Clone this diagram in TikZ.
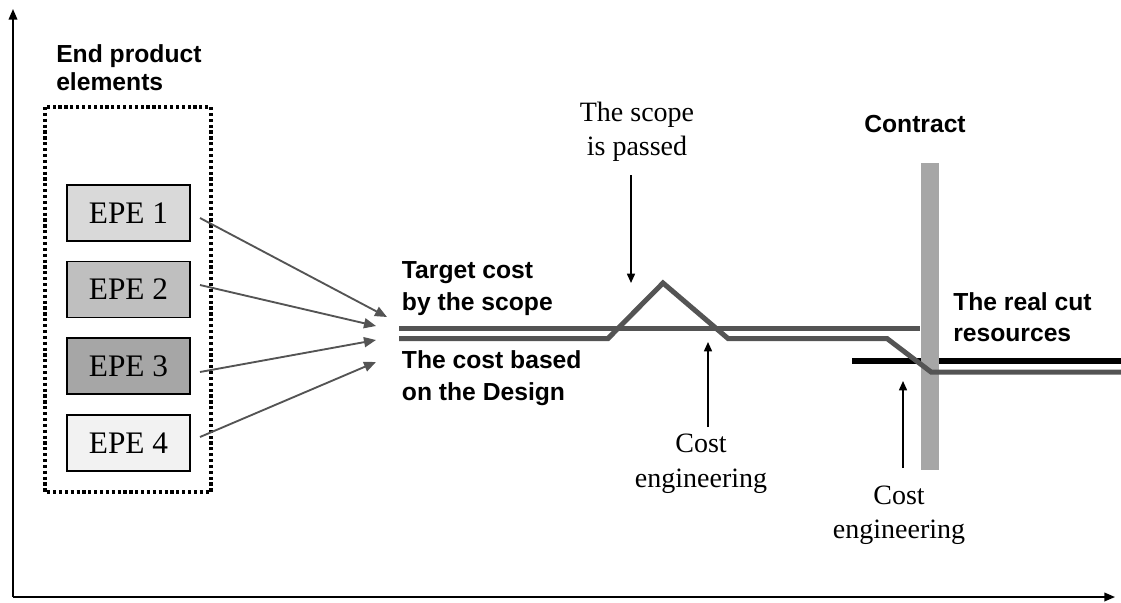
\documentclass[tikz,border=0pt]{standalone}
\usepackage{fontspec}
\setmainfont{Liberation Serif}
\setsansfont{Liberation Sans}
\usetikzlibrary{arrows.meta}
\definecolor{costgray}{gray}{0.33}
\definecolor{bargray}{gray}{0.65}
\tikzset{
  epe/.style={draw,line width=1.2pt,minimum width=92pt,minimum height=42pt,
    inner sep=0pt,font=\fontsize{23.5}{28}\selectfont},
  boldlbl/.style={font=\sffamily\bfseries\fontsize{18.5}{24}\selectfont,
    align=left,inner sep=0pt,anchor=base west},
  serlbl/.style={font=\fontsize{21}{26}\selectfont,align=center,
    inner sep=0pt,anchor=base},
  feed/.style={draw=costgray,line width=1.4pt,->},
  costline/.style={draw=costgray,line width=3.75pt,line join=miter},
  pointer/.style={line width=1.2pt,-{Triangle[length=7pt,width=6pt]}}
}
\begin{document}
\begin{tikzpicture}[x=0.75pt,y=-0.75pt,>={Triangle[length=9pt,width=7.5pt]}]
  \useasboundingbox (0,0) rectangle (1121,603);
  % axes
  \coordinate (origin) at (13,597);
  \coordinate (ytop) at (13,9);
  \coordinate (xend) at (1115,597);
  \draw[line width=1.2pt,-{Triangle[length=8pt,width=6.5pt]}] (origin)--(ytop);
  \draw[line width=1.2pt,-{Triangle[length=8pt,width=6.5pt]}] (origin)--(xend);
  % end product elements (base = last line)
  \node[boldlbl,font=\sffamily\bfseries\fontsize{18.5}{21}\selectfont]
    (eptitle) at (56,90) {End product\\elements};
  \draw[line width=2.4pt,dash pattern=on 2.4pt off 2pt] (45,107) rectangle (211,492);
  \foreach \i/\yc/\g in {1/213/15,2/289.5/25,3/366/35,4/443/5}
    \node[epe,fill=black!\g] (e\i) at (128.5,\yc) {EPE \i};
  % feeding arrows
  \coordinate (s1) at (200,218); \coordinate (t1) at (387,317);
  \coordinate (s2) at (200,285); \coordinate (t2) at (376,326);
  \coordinate (s3) at (200,372); \coordinate (t3) at (376,340);
  \coordinate (s4) at (200,437); \coordinate (t4) at (376,362);
  \foreach \i in {1,...,4}
    \draw[feed] (s\i)--(t\i);
  % real cut resources (under the bar)
  \coordinate (r0) at (852,361);
  \coordinate (r1) at (1121,361);
  \draw[line width=4.3pt] (r0)--(r1);
  % contract bar
  \fill[bargray] (920.5,163) rectangle (939,470);
  \node[boldlbl,anchor=base] (contract) at (915,132) {Contract};
  % target cost and design cost
  \coordinate (a0) at (399,328);
  \coordinate (a1) at (920,328);
  \draw[costline] (a0)--(a1);
  \coordinate (b0) at (399,338.5);
  \coordinate (b1) at (608,338.5);
  \coordinate (peak) at (663,283);
  \coordinate (b2) at (728,338.5);
  \coordinate (b3) at (887,338.5);
  \coordinate (b4) at (931,372);
  \coordinate (b5) at (1121,372);
  \draw[costline] (b0)--(b1)--(peak)--(b2)--(b3)--(b4)--(b5);
  \node[boldlbl] (target) at (401.7,310) {Target cost\\by the scope};
  \node[boldlbl] (design) at (401.7,400) {The cost based\\on the Design};
  \node[boldlbl,font=\sffamily\bfseries\fontsize{18.5}{23}\selectfont]
    (realcut) at (953,341) {The real cut\\resources};
  % pointers
  \node[serlbl,font=\fontsize{21}{25}\selectfont] (scope) at (637,155)
    {The scope\\is passed};
  \coordinate (p0) at (631,175); \coordinate (p1) at (631,283);
  \draw[pointer] (p0)--(p1);
  \node[serlbl] (ce1) at (701,487) {Cost\\engineering};
  \coordinate (q0) at (708,427); \coordinate (q1) at (708,342);
  \draw[pointer] (q0)--(q1);
  \node[serlbl,font=\fontsize{21}{25.5}\selectfont] (ce2) at (899,538)
    {Cost\\engineering};
  \coordinate (u0) at (903,468); \coordinate (u1) at (903,381);
  \draw[pointer] (u0)--(u1);
\end{tikzpicture}
\end{document}
